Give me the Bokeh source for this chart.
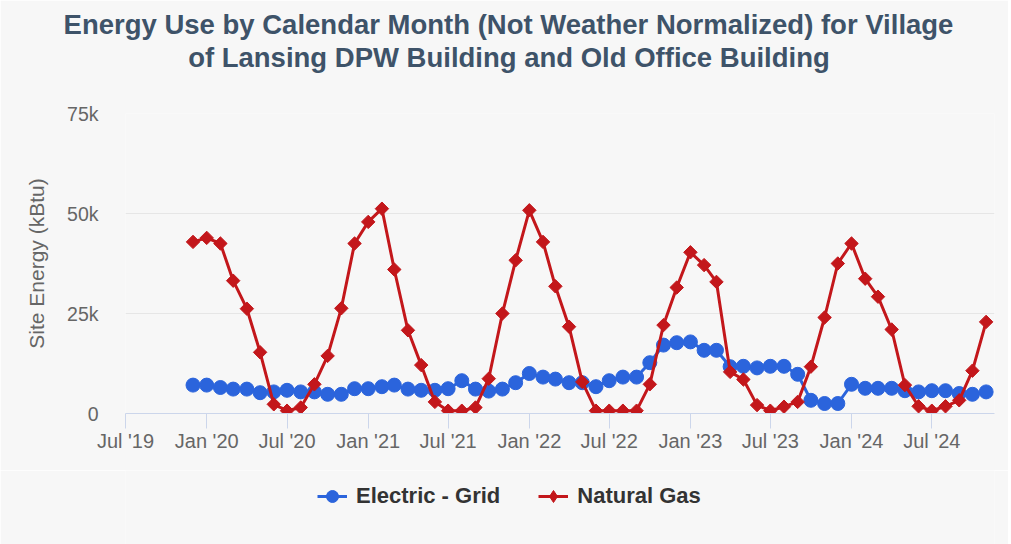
import pandas as pd
from bokeh.plotting import figure
from bokeh.layouts import column
from bokeh.models import (ColumnDataSource, Range1d, FixedTicker, DatetimeTickFormatter,
                          Title, Legend, LegendItem)
from bokeh.embed import file_html
from bokeh.resources import INLINE

# ---- data (kBtu), monthly Dec 2019 .. Nov 2024 ----
first_month = "2019-12-01"
n_months = 60
electric_grid = [7.1, 7.1, 6.5, 6.1, 6.1, 5.2, 5.4, 5.8, 5.4, 5.4, 4.8, 4.8,
                 6.2, 6.2, 6.7, 7.1, 6.1, 5.8, 5.8, 6.2, 8.2, 6.1, 5.6, 6.1,
                 7.7, 10.0, 9.1, 8.6, 7.7, 7.7, 6.7, 8.2, 9.1, 9.1, 12.7, 17.1,
                 17.7, 17.9, 15.8, 15.8, 11.7, 11.8, 11.4, 11.8, 11.8, 9.8, 3.3, 2.5,
                 2.5, 7.3, 6.3, 6.3, 6.3, 5.7, 5.4, 5.7, 5.7, 5.0, 4.8, 5.4]
natural_gas = [42.9, 43.9, 42.5, 33.2, 26.2, 15.3, 2.3, 0.7, 1.5, 7.3, 14.4, 26.3,
               42.5, 47.9, 51.2, 36.0, 20.8, 12.1, 2.9, 0.7, 0.7, 1.5, 8.7, 25.0,
               38.3, 50.8, 42.9, 31.8, 21.7, 7.9, 0.7, 0.7, 0.7, 0.7, 7.3, 22.1,
               31.5, 40.3, 37.1, 32.9, 10.4, 8.5, 2.1, 0.7, 1.7, 2.9, 11.7, 24.0,
               37.5, 42.5, 33.7, 29.2, 21.0, 7.1, 1.8, 0.7, 1.8, 3.3, 10.7, 22.9]
tick_dates = ["2019-07-01", "2020-01-01", "2020-07-01", "2021-01-01", "2021-07-01",
              "2022-01-01", "2022-07-01", "2023-01-01", "2023-07-01", "2024-01-01",
              "2024-07-01"]
y_ticks = [0, 25000, 50000, 75000]
y_tick_labels = ["0", "25k", "50k", "75k"]
series_names = ["Electric - Grid", "Natural Gas"]
title_lines = ["Energy Use by Calendar Month (Not Weather Normalized) for Village",
               "of Lansing DPW Building and Old Office Building"]
y_title = "Site Energy (kBtu)"

months = pd.date_range(first_month, periods=n_months, freq="MS")
src = ColumnDataSource(dict(
    x=months,
    elec=[v * 1000 for v in electric_grid],
    gas=[v * 1000 for v in natural_gas],
))

BG = "#f7f7f7"
BLUE = "#2b64dc"
RED = "#c3171b"
FONT = "Liberation Sans"
TITLE_SIZE = 27.5
title_w = [32.395, 23.336]  # Liberation Sans Bold advance widths (em) of the two lines

p = figure(frame_width=869, frame_height=300, output_backend="svg", toolbar_location=None,
           x_axis_type="datetime",
           x_range=Range1d(pd.Timestamp("2019-07-01"), pd.Timestamp("2024-11-20")),
           y_range=Range1d(0, 75000), title=None,
           min_border_left=125, min_border_right=14, min_border_top=113, min_border_bottom=57)
p.background_fill_color = BG
p.border_fill_color = BG
p.outline_line_color = None


def draw_series(fig, gas_marker="square", gas_angle=0.7854):
    rl1 = fig.line("x", "elec", source=src, line_color=BLUE, line_width=3)
    rm1 = fig.scatter("x", "elec", source=src, marker="circle", size=14,
                      fill_color=BLUE, line_color=BLUE)
    rl2 = fig.line("x", "gas", source=src, line_color=RED, line_width=3)
    rm2 = fig.scatter("x", "gas", source=src, marker=gas_marker, size=9.5, angle=gas_angle,
                      fill_color=RED, line_color=RED)
    return rl1, rm1, rl2, rm2


draw_series(p)

# axes
xt = [pd.Timestamp(d).value / 1e6 for d in tick_dates]
p.xaxis.ticker = FixedTicker(ticks=xt)
fmt = "%b '%y"
p.xaxis.formatter = DatetimeTickFormatter(days=fmt, months=fmt, years=fmt, hours=fmt)
p.xaxis.axis_line_color = "#ccd6eb"
p.xaxis.major_tick_line_color = "#ccd6eb"
p.xaxis.major_tick_out = 15
p.xaxis.major_tick_in = 0
p.xaxis.minor_tick_line_color = None
p.xaxis.major_label_standoff = 1
p.xaxis.major_label_text_font = FONT
p.xaxis.major_label_text_font_size = "20px"
p.xaxis.major_label_text_color = "#666666"
p.xgrid.grid_line_color = None

p.yaxis.ticker = FixedTicker(ticks=y_ticks)
p.yaxis.major_label_overrides = {t: l for t, l in zip(y_ticks, y_tick_labels)}
p.yaxis.axis_line_color = None
p.yaxis.major_tick_line_color = None
p.yaxis.minor_tick_line_color = None
p.yaxis.major_tick_out = 0
p.yaxis.major_label_standoff = 27
p.yaxis.major_label_text_font = FONT
p.yaxis.major_label_text_font_size = "19.5px"
p.yaxis.major_label_text_color = "#666666"
p.yaxis.axis_label = y_title
p.yaxis.axis_label_text_font = FONT
p.yaxis.axis_label_text_font_size = "21px"
p.yaxis.axis_label_text_font_style = "normal"
p.yaxis.axis_label_text_color = "#666666"
p.yaxis.axis_label_standoff = 16
p.ygrid.grid_line_color = "#e6e6e6"
p.ygrid.ticker = FixedTicker(ticks=y_ticks)

# title: a blank spacer panel next to the frame, then line 2, then line 1
p.add_layout(Title(text=" ", standoff=8, text_font=FONT,
                   text_font_size=f"{TITLE_SIZE}px"), "above")
centre_x = 508.5
for idx in [1, 0]:
    off = centre_x - title_w[idx] * TITLE_SIZE / 2 - 125
    p.add_layout(Title(text=title_lines[idx], align="left", offset=off, standoff=0,
                       text_font=FONT, text_font_size=f"{TITLE_SIZE}px",
                       text_font_style="bold", text_color="#3e5369"), "above")

# legend in a separate strip below the chart (series drawn off-screen there)
lg = figure(width=1008, height=74, output_backend="svg", toolbar_location=None,
            x_range=Range1d(0, 1008), y_range=Range1d(0, 74),
            x_axis_location=None, y_axis_location=None, title=None,
            min_border_left=0, min_border_right=0, min_border_top=0, min_border_bottom=0)
lg.background_fill_color = BG
lg.border_fill_color = BG
lg.outline_line_color = None
lg.xgrid.grid_line_color = None
lg.ygrid.grid_line_color = None
le_l, le_m, lgas_l, lgas_m = draw_series(lg, gas_marker="diamond", gas_angle=0)
legend = Legend(items=[LegendItem(label=series_names[0], renderers=[le_l, le_m]),
                       LegendItem(label=series_names[1], renderers=[lgas_l, lgas_m])],
                orientation="horizontal", location=(192, 33),
                glyph_width=30, glyph_height=30, label_standoff=9, spacing=38,
                padding=0, margin=0, border_line_alpha=0, background_fill_alpha=0,
                label_text_font=FONT, label_text_font_size="22px",
                label_text_font_style="bold", label_text_color="#333333")
lg.add_layout(legend)

layout = column(p, lg, spacing=0)
open("out.html", "w").write(file_html(layout, INLINE))
